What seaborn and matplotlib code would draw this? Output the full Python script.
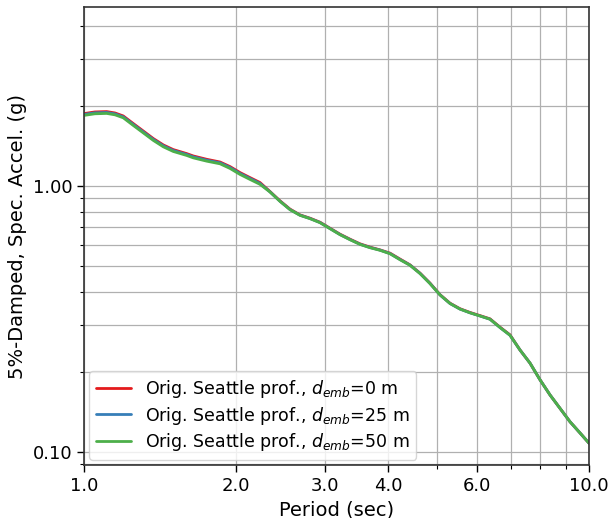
import numpy as np
import pandas as pd
import matplotlib
matplotlib.use("Agg")
import matplotlib.pyplot as plt
from matplotlib.ticker import FixedLocator, FixedFormatter, NullFormatter, LogLocator
import seaborn as sns

# Spectral periods (sec)
period = [1.000, 1.051, 1.109, 1.152, 1.196, 1.252, 1.310, 1.372, 1.436, 1.502,
          1.597, 1.646, 1.750, 1.859, 1.946, 2.037, 2.132, 2.231, 2.335, 2.444,
          2.558, 2.677, 2.802, 2.933, 3.070, 3.213, 3.363, 3.520, 3.684, 3.856,
          4.036, 4.224, 4.421, 4.628, 4.843, 5.069, 5.306, 5.553, 5.813, 6.084,
          6.367, 6.665, 6.975, 7.301, 7.642, 7.998, 8.371, 8.762, 9.171, 9.598,
          10.000]

# 5%-damped spectral acceleration (g) for each embedment depth
sa_emb0 = [1.875, 1.902, 1.908, 1.885, 1.837, 1.720, 1.613, 1.510, 1.429, 1.373,
           1.326, 1.299, 1.262, 1.233, 1.185, 1.125, 1.077, 1.032, 0.955, 0.881,
           0.820, 0.780, 0.758, 0.732, 0.695, 0.660, 0.632, 0.607, 0.590, 0.576,
           0.560, 0.532, 0.506, 0.471, 0.432, 0.391, 0.363, 0.346, 0.335, 0.326,
           0.317, 0.295, 0.276, 0.242, 0.216, 0.187, 0.164, 0.146, 0.130, 0.118,
           0.108]
sa_emb25 = [1.861, 1.887, 1.893, 1.870, 1.822, 1.706, 1.600, 1.498, 1.418, 1.362,
            1.316, 1.289, 1.252, 1.224, 1.176, 1.116, 1.069, 1.024, 0.952, 0.878,
            0.817, 0.778, 0.756, 0.730, 0.693, 0.658, 0.630, 0.605, 0.588, 0.575,
            0.558, 0.530, 0.505, 0.470, 0.431, 0.390, 0.362, 0.345, 0.334, 0.325,
            0.316, 0.294, 0.275, 0.242, 0.216, 0.187, 0.164, 0.146, 0.130, 0.118,
            0.108]
sa_emb50 = [1.846, 1.872, 1.878, 1.855, 1.808, 1.692, 1.587, 1.486, 1.406, 1.351,
            1.305, 1.278, 1.242, 1.214, 1.166, 1.107, 1.060, 1.016, 0.951, 0.877,
            0.816, 0.777, 0.755, 0.729, 0.692, 0.657, 0.629, 0.604, 0.587, 0.574,
            0.557, 0.529, 0.504, 0.469, 0.430, 0.390, 0.362, 0.345, 0.334, 0.325,
            0.316, 0.294, 0.275, 0.242, 0.216, 0.187, 0.164, 0.146, 0.130, 0.118,
            0.108]

labels = [r"Orig. Seattle prof., $d_{emb}$=0 m",
          r"Orig. Seattle prof., $d_{emb}$=25 m",
          r"Orig. Seattle prof., $d_{emb}$=50 m"]
colors = ["#e41a1c", "#377eb8", "#4daf4a"]

x_ticks = [1.0, 2.0, 3.0, 4.0, 6.0, 10.0]
x_tick_labels = ["1.0", "2.0", "3.0", "4.0", "6.0", "10.0"]
x_minor = [5.0, 7.0, 8.0, 9.0]
y_ticks = [0.1, 1.0]
y_tick_labels = ["0.10", "1.00"]

frames = []
for lab, sa in zip(labels, [sa_emb0, sa_emb25, sa_emb50]):
    frames.append(pd.DataFrame({"Period": period, "SA": sa, "case": lab}))
df = pd.concat(frames, ignore_index=True)

sns.set_style("white", {"xtick.bottom": True, "ytick.left": True,
                        "axes.edgecolor": "#333333", "text.color": "black",
                        "axes.labelcolor": "black", "xtick.color": "black",
                        "ytick.color": "black"})
plt.rcParams["font.family"] = ["DejaVu Sans"]
plt.rcParams["mathtext.fontset"] = "dejavusans"

fig = plt.figure(figsize=(6.10, 5.18), dpi=100)
ax = fig.add_axes([0.1377, 0.1023, 0.8279, 0.8842])

sns.lineplot(data=df, x="Period", y="SA", hue="case", palette=colors,
             linewidth=2.0, ax=ax, sort=False)

ax.set_xscale("log")
ax.set_yscale("log")
ax.set_xlim(1.0, 10.0)
ax.set_ylim(0.0894, 4.72)

ax.xaxis.set_major_locator(FixedLocator(x_ticks))
ax.xaxis.set_major_formatter(FixedFormatter(x_tick_labels))
ax.xaxis.set_minor_locator(FixedLocator(x_minor))
ax.xaxis.set_minor_formatter(NullFormatter())
ax.yaxis.set_major_locator(FixedLocator(y_ticks))
ax.yaxis.set_major_formatter(FixedFormatter(y_tick_labels))
ax.yaxis.set_minor_locator(LogLocator(base=10, subs=np.arange(2, 10), numticks=20))
ax.yaxis.set_minor_formatter(NullFormatter())

ax.tick_params(axis="both", which="major", direction="out", length=5, width=1,
               labelsize=13, color="black", labelcolor="black",
               bottom=True, left=True)
ax.tick_params(axis="both", which="minor", direction="out", length=3, width=0.8,
               color="black", bottom=True, left=True)
ax.grid(True, which="both", color="#b0b0b0", linewidth=0.9)
ax.set_axisbelow(True)
for sp in ax.spines.values():
    sp.set_color("#333333")
    sp.set_linewidth(1.2)

ax.set_xlabel("Period (sec)", fontsize=14, color="black")
ax.set_ylabel("5%-Damped, Spec. Accel. (g)", fontsize=14, color="black")

leg = ax.legend(loc="lower left", fontsize=12.5, frameon=True, borderaxespad=0.3,
                handlelength=2.0, labelspacing=0.25)
leg.get_frame().set_edgecolor("#cccccc")
for t in leg.get_texts():
    t.set_color("black")

fig.savefig("out.png", dpi=100)
